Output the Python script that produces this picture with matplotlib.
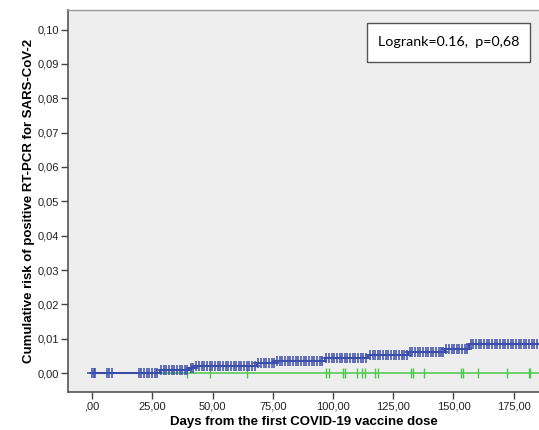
import matplotlib.pyplot as plt
from matplotlib.patches import Rectangle
import numpy as np

# Kaplan-Meier style cumulative risk
vacc_step_days = [0.0, 28.0, 40.4, 42.7, 68.5, 76.0, 96.5, 114.7, 131.2, 146.5, 156.5]
vacc_step_risk = [0.0, 0.0008, 0.0015, 0.0022, 0.0030, 0.0036, 0.0043, 0.0054, 0.0061, 0.0070, 0.0085]

vacc_censored = [
    0.0, 0.6, 1.2, 6.0, 7.2, 8.4,
    19.4, 20.5, 21.6, 22.7, 23.8, 24.9, 26.0, 27.1,
    28.6, 29.7, 30.8, 31.9, 33.0, 34.1, 35.2, 36.3, 37.4, 38.5, 39.6,
    41.0, 42.0, 43.3, 44.4, 45.5, 46.6, 47.7, 48.8, 49.9, 51.0, 52.1, 53.2, 54.3,
    55.4, 56.5, 57.6, 58.7, 59.8, 60.9, 62.0, 63.1, 64.2, 65.3, 66.4, 67.5,
    69.0, 70.1, 71.2, 72.3, 73.4, 74.5, 75.6,
    76.8, 77.9, 79.0, 80.1, 81.2, 82.3, 83.4, 84.5, 85.6, 86.7, 87.8, 88.9, 90.0,
    91.1, 92.2, 93.3, 94.4, 95.5,
    97.2, 98.3, 99.4, 100.5, 101.6, 102.7, 103.8, 104.9, 106.0, 107.1, 108.2,
    109.3, 110.4, 111.5, 112.6, 113.7,
    115.3, 116.4, 117.5, 118.6, 119.7, 120.8, 121.9, 123.0, 124.1, 125.2, 126.3,
    127.4, 128.5, 129.6, 130.7,
    131.8, 132.9, 134.0, 135.1, 136.2, 137.3, 138.4, 139.4, 140.5, 141.6, 142.7,
    143.8, 144.9, 145.8,
    147.0, 148.1, 149.2, 150.3, 151.4, 152.5, 153.6, 154.7, 155.8,
    157.2, 158.3, 159.4, 160.5, 161.6, 162.7, 163.8, 164.9, 166.0, 167.1, 168.2,
    169.3, 170.4, 171.5, 172.6, 173.7, 174.8, 175.9, 177.0, 178.1, 179.2, 180.3,
    181.4, 182.5, 183.6, 184.7, 185.8,
]

ctrl_step_days = [0.0, 190.0]
ctrl_step_risk = [0.0, 0.0]
ctrl_censored = [39.3, 49.0, 64.2, 97.2, 98.4, 104.2, 105.0, 110.0, 112.0, 113.1,
                 117.4, 118.8, 132.4, 133.3, 137.9, 153.0, 153.8, 160.0, 172.3,
                 181.2, 181.7]

x_ticks = [0, 25, 50, 75, 100, 125, 150, 175]
x_ticklabels = [',00', '25,00', '50,00', '75,00', '100,00', '125,00', '150,00', '175,00']
y_ticks = [0.0, 0.01, 0.02, 0.03, 0.04, 0.05, 0.06, 0.07, 0.08, 0.09, 0.10]
y_ticklabels = ['0,00', '0,01', '0,02', '0,03', '0,04', '0,05', '0,06', '0,07', '0,08', '0,09', '0,10']

plt.rcParams['font.family'] = ['Liberation Sans', 'DejaVu Sans']

W, H = 539, 430
fig = plt.figure(figsize=(W / 100, H / 100), dpi=100)
ax = fig.add_axes([68 / W, (H - 392) / H, (W - 68) / W, (392 - 10) / H])
ax.set_facecolor('#EEEEEE')


def level_at(days, step_days, step_risk):
    idx = np.searchsorted(step_days, days, side='right') - 1
    return np.array(step_risk)[idx]


blue = '#3A4DAA'
green = '#4CC74C'

# control group (flat line at zero)
ax.step(ctrl_step_days, ctrl_step_risk, where='post', color=green, lw=1.1, zorder=2)
ax.plot(ctrl_censored, level_at(ctrl_censored, ctrl_step_days, ctrl_step_risk),
        ls='none', marker='|', ms=7, mew=1.0, color=green, zorder=2)

# vaccinated group
vd = vacc_step_days + [190.0]
vr = vacc_step_risk + [vacc_step_risk[-1]]
ax.step(vd, vr, where='post', color=blue, lw=1.5, zorder=3)
ax.plot(vacc_censored, level_at(vacc_censored, vacc_step_days, vacc_step_risk),
        ls='none', marker='+', ms=7.5, mew=1.1, color=blue, zorder=3)

ax.set_xlim(-10, 185.5)
ax.set_ylim(-0.0055, 0.1057)
ax.set_xticks(x_ticks)
ax.set_xticklabels(x_ticklabels)
ax.set_yticks(y_ticks)
ax.set_yticklabels(y_ticklabels)
ax.tick_params(direction='out', length=5, width=1, color='#444444',
               labelsize=8, labelcolor='#222222', pad=1.5)

for side in ['left', 'bottom']:
    ax.spines[side].set_color('#555555')
    ax.spines[side].set_linewidth(1.2)
ax.spines['top'].set_color('#999999')
ax.spines['top'].set_linewidth(1.0)
ax.spines['right'].set_visible(False)

ax.set_xlabel('Days from the first COVID-19 vaccine dose', fontsize=9.5,
              fontweight='bold', labelpad=3.5)
ax.set_ylabel('Cumulative risk of positive RT-PCR for SARS-CoV-2', fontsize=9.5,
              fontweight='bold', labelpad=2)

# logrank annotation box
ax.add_patch(Rectangle((0.635, 0.864), 0.346, 0.102, transform=ax.transAxes,
                       facecolor='white', edgecolor='#555555', lw=1.0, zorder=5))
ax.text(0.808, 0.915, 'Logrank=0.16,  p=0,68', transform=ax.transAxes,
        ha='center', va='center', fontsize=10.3, family=['Lato', 'DejaVu Sans'],
        zorder=6)

fig.savefig('out.png', dpi=100)
